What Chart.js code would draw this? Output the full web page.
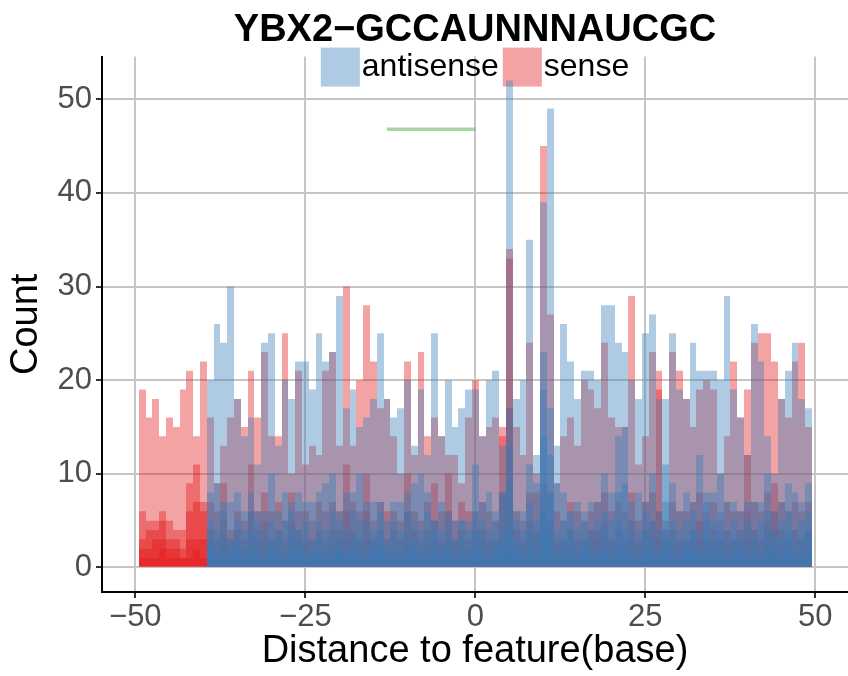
<!DOCTYPE html>
<html>
<head>
<meta charset="utf-8">
<script src="https://cdn.jsdelivr.net/npm/chart.js@4.4.1/dist/chart.umd.min.js"></script>
<style>
  html, body { margin: 0; padding: 0; background: #fff; }
</style>
</head>
<body>
<canvas id="distChart" width="848" height="676"></canvas>
<script>
// distance to feature, one bar per base
const positions = [
    -49, -48, -47, -46, -45, -44, -43, -42, -41, -40,
    -39, -38, -37, -36, -35, -34, -33, -32, -31, -30,
    -29, -28, -27, -26, -25, -24, -23, -22, -21, -20,
    -19, -18, -17, -16, -15, -14, -13, -12, -11, -10,
    -9, -8, -7, -6, -5, -4, -3, -2, -1, 0,
    1, 2, 3, 4, 5, 6, 7, 8, 9, 10,
    11, 12, 13, 14, 15, 16, 17, 18, 19, 20,
    21, 22, 23, 24, 25, 26, 27, 28, 29, 30,
    31, 32, 33, 34, 35, 36, 37, 38, 39, 40,
    41, 42, 43, 44, 45, 46, 47, 48, 49
];

// sense strand, one array per overlaid sample
const sense1 = [
    19, 16, 18, 14, 16, 15, 19, 21, 14, 22,
    16, 9, 13, 16, 18, 15, 21, 16, 23, 14,
    14, 25, 10, 21, 11, 13, 12, 21, 23, 13,
    30, 13, 20, 28, 22, 17, 18, 14, 10, 22,
    12, 23, 14, 16, 14, 12, 12, 9, 16, 20,
    14, 15, 16, 15, 34, 15, 12, 24, 10, 45,
    27, 9, 14, 16, 13, 20, 19, 17, 24, 16,
    15, 15, 29, 11, 14, 23, 21, 5, 23, 21,
    18, 15, 19, 20, 19, 10, 14, 22, 16, 19,
    24, 25, 25, 22, 18, 16, 22, 24, 15
];
const sense2 = [
    6, 5, 5, 6, 5, 4, 4, 9, 11, 7,
    7, 6, 9, 4, 6, 5, 11, 6, 8, 6,
    7, 5, 8, 6, 6, 5, 7, 6, 7, 6,
    11, 7, 6, 10, 5, 7, 6, 6, 5, 10,
    6, 5, 7, 9, 6, 10, 5, 7, 6, 6,
    7, 6, 5, 14, 33, 6, 5, 8, 8, 9,
    8, 6, 5, 7, 6, 5, 6, 7, 8, 6,
    7, 6, 8, 5, 7, 8, 19, 4, 7, 6,
    6, 7, 8, 6, 7, 5, 7, 6, 6, 12,
    7, 6, 8, 9, 7, 6, 7, 6, 7
];
const sense3 = [
    3, 4, 4, 5, 3, 3, 2, 6, 7, 6,
    4, 3, 5, 3, 4, 3, 6, 4, 5, 3,
    4, 3, 5, 4, 3, 3, 4, 3, 4, 4,
    6, 4, 3, 6, 3, 4, 3, 4, 3, 6,
    4, 3, 4, 5, 3, 6, 3, 4, 3, 4,
    4, 3, 3, 8, 17, 4, 3, 5, 4, 6,
    5, 3, 3, 4, 3, 3, 4, 4, 5, 3,
    4, 3, 5, 3, 4, 5, 6, 3, 4, 3,
    3, 4, 5, 3, 4, 3, 4, 3, 4, 6,
    4, 3, 5, 6, 4, 3, 4, 3, 4
];
const sense4 = [
    2, 2, 3, 3, 2, 2, 1, 3, 3, 3,
    2, 2, 3, 1, 2, 2, 3, 2, 3, 2,
    2, 2, 3, 2, 2, 1, 2, 2, 2, 3,
    3, 2, 2, 3, 2, 2, 2, 2, 1, 3,
    2, 2, 2, 3, 2, 3, 2, 2, 2, 2,
    2, 2, 2, 4, 9, 2, 2, 3, 2, 3,
    3, 2, 2, 2, 2, 2, 2, 3, 3, 2,
    2, 2, 3, 2, 2, 3, 3, 2, 2, 2,
    2, 2, 3, 2, 2, 2, 2, 2, 2, 3,
    2, 2, 3, 4, 2, 2, 2, 2, 2
];
const sense5 = [
    1, 1, 1, 2, 1, 1, 1, 1, 2, 1,
    1, 1, 2, 1, 1, 1, 2, 1, 1, 1,
    1, 1, 1, 1, 1, 1, 1, 1, 1, 2,
    2, 1, 1, 1, 1, 1, 1, 1, 1, 1,
    1, 1, 1, 2, 1, 1, 1, 1, 1, 1,
    1, 1, 1, 2, 4, 1, 1, 1, 1, 1,
    2, 1, 1, 1, 1, 1, 1, 2, 1, 1,
    1, 1, 2, 1, 1, 1, 2, 1, 1, 1,
    1, 1, 1, 1, 1, 1, 1, 1, 1, 2,
    1, 1, 2, 2, 1, 1, 1, 1, 1
];

// antisense strand (no reads before -39)
const anti1 = [
    null, null, null, null, null, null, null, null, null, null,
    20, 26, 24, 30, 18, 14, 16, 11, 24, 25,
    13, 20, 18, 22, 22, 19, 25, 22, 23, 29,
    17, 19, 15, 16, 18, 25, 18, 16, 17, 20,
    13, 19, 12, 25, 14, 20, 15, 17, 19, 19,
    14, 20, 21, 13, 52, 18, 20, 35, 12, 39,
    49, 13, 26, 22, 18, 21, 21, 20, 28, 28,
    24, 23, 20, 18, 25, 27, 18, 18, 25, 19,
    18, 24, 21, 21, 21, 20, 29, 19, 16, 12,
    26, 22, 14, 10, 18, 21, 24, 18, 17
];
const anti2 = [
    null, null, null, null, null, null, null, null, null, null,
    8, 9, 7, 7, 8, 6, 8, 6, 6, 10,
    6, 8, 7, 8, 7, 7, 8, 9, 10, 6,
    8, 8, 10, 7, 7, 7, 5, 7, 7, 8,
    9, 10, 8, 5, 7, 6, 5, 5, 5, 11,
    7, 8, 6, 8, 17, 6, 6, 11, 9, 23,
    17, 9, 8, 6, 7, 6, 7, 7, 10, 8,
    14, 15, 7, 8, 7, 10, 6, 11, 9, 6,
    8, 7, 12, 7, 8, 10, 7, 7, 6, 7,
    7, 7, 10, 6, 7, 9, 8, 7, 9
];
const anti3 = [
    null, null, null, null, null, null, null, null, null, null,
    5, 4, 6, 3, 5, 4, 6, 5, 4, 5,
    4, 5, 6, 4, 5, 3, 5, 4, 6, 5,
    4, 6, 5, 5, 4, 6, 3, 5, 4, 6,
    5, 4, 6, 5, 4, 5, 3, 5, 4, 6,
    5, 4, 5, 8, 13, 5, 4, 7, 5, 19,
    12, 4, 5, 6, 4, 5, 4, 5, 6, 5,
    8, 9, 5, 4, 6, 5, 4, 7, 5, 4,
    5, 6, 4, 8, 5, 6, 4, 5, 4, 5,
    4, 5, 6, 4, 5, 6, 4, 5, 6
];
const anti4 = [
    null, null, null, null, null, null, null, null, null, null,
    3, 2, 3, 2, 3, 2, 4, 3, 2, 3,
    3, 2, 4, 3, 2, 2, 3, 2, 3, 3,
    2, 3, 3, 2, 3, 4, 2, 3, 2, 3,
    3, 2, 3, 4, 2, 3, 2, 3, 2, 4,
    3, 2, 3, 4, 9, 3, 2, 4, 3, 14,
    8, 2, 3, 4, 2, 3, 3, 2, 4, 3,
    5, 4, 3, 2, 4, 3, 2, 4, 3, 2,
    3, 4, 2, 5, 3, 4, 2, 3, 3, 2,
    3, 2, 4, 3, 3, 4, 2, 3, 4
];
const anti5 = [
    null, null, null, null, null, null, null, null, null, null,
    2, 1, 1, 1, 2, 1, 2, 1, 1, 2,
    1, 1, 2, 2, 1, 1, 2, 1, 1, 2,
    1, 2, 1, 1, 2, 2, 1, 1, 1, 2,
    2, 1, 1, 2, 1, 2, 1, 1, 1, 2,
    1, 1, 2, 2, 4, 2, 1, 2, 1, 6,
    3, 1, 1, 2, 1, 2, 1, 1, 2, 1,
    2, 2, 1, 1, 2, 1, 1, 2, 1, 1,
    2, 2, 1, 2, 1, 2, 1, 1, 2, 1,
    1, 1, 2, 2, 1, 2, 1, 1, 2
];

// motif feature segment
const featureX = [-13, 0];
const featureLevel = 46.8;

const chartTitle = "YBX2\u2212GCCAUNNNAUCGC";
const legendLabels = ["antisense", "sense"];
const xTickValues = [-50, -25, 0, 25, 50];
const xTickLabels = ["\u221250", "\u221225", "0", "25", "50"];
const yTickValues = [0, 10, 20, 30, 40, 50];

const BLUE = "rgba(55, 126, 184, 0.4)";
const RED = "rgba(228, 26, 28, 0.4)";

Chart.defaults.font.family = "'Liberation Sans', Arial, Helvetica, sans-serif";

function barLayer(label, values, color) {
    return {
        type: "bar",
        label: label,
        data: positions.map((p, i) => ({ x: p, y: values[i] })),
        backgroundColor: color,
        borderWidth: 0,
        grouped: false,
        barPercentage: 1,
        categoryPercentage: 1,
        inflateAmount: 0,
    };
}

// snap bar edges to whole pixels so neighbouring translucent bars don't leave seams
const snapBars = {
    id: "snapBars",
    afterDatasetsUpdate(chart) {
        chart.getSortedVisibleDatasetMetas().forEach((meta) => {
            if (meta.type !== "bar") return;
            meta.data.forEach((el) => {
                const l = Math.round(el.x - el.width / 2);
                const r = Math.round(el.x + el.width / 2);
                el.x = (l + r) / 2;
                el.width = r - l;
            });
        });
    },
};

const insideLegend = {
    id: "insideLegend",
    beforeDatasetsDraw(chart) {
        const ctx = chart.ctx;
        const area = chart.chartArea;
        const box = 39;
        ctx.save();
        ctx.font = "32px 'Liberation Sans', Arial, sans-serif";
        ctx.textBaseline = "middle";
        ctx.textAlign = "left";
        const w1 = ctx.measureText(legendLabels[0]).width;
        const w2 = ctx.measureText(legendLabels[1]).width;
        const total = box + 2 + w1 + 4 + box + 2 + w2;
        let x = (area.left + area.right) / 2 - total / 2;
        const top = area.top - 9;
        const mid = top + box / 2;
        ctx.fillStyle = BLUE;
        ctx.fillRect(x, top, box, box);
        ctx.fillStyle = "#000";
        ctx.fillText(legendLabels[0], x + box + 2, mid);
        x += box + 2 + w1 + 4;
        ctx.fillStyle = RED;
        ctx.fillRect(x, top, box, box);
        ctx.fillStyle = "#000";
        ctx.fillText(legendLabels[1], x + box + 2, mid);
        ctx.restore();
    },
};

const gridStyle = {
    color: "#C6C6C6",
    lineWidth: 2,
    drawTicks: true,
    tickLength: 6,
    tickColor: "#333333",
    tickWidth: 2,
    offset: false,
};

new Chart(document.getElementById("distChart").getContext("2d"), {
    type: "bar",
    data: {
        datasets: [
            {
                type: "line",
                label: "feature",
                data: featureX.map((x) => ({ x: x, y: featureLevel })),
                borderColor: "rgba(77, 175, 74, 0.5)",
                borderWidth: 3.5,
                pointRadius: 0,
                fill: false,
            },
            barLayer("antisense", anti1, BLUE),
            barLayer("antisense", anti2, BLUE),
            barLayer("antisense", anti3, BLUE),
            barLayer("antisense", anti4, BLUE),
            barLayer("antisense", anti5, BLUE),
            barLayer("sense", sense1, RED),
            barLayer("sense", sense2, RED),
            barLayer("sense", sense3, RED),
            barLayer("sense", sense4, RED),
            barLayer("sense", sense5, RED),
        ],
    },
    options: {
        responsive: false,
        animation: false,
        devicePixelRatio: 1,
        layout: { padding: 0 },
        plugins: {
            legend: { display: false },
            tooltip: { enabled: false },
            title: {
                display: true,
                text: chartTitle,
                fullSize: false,
                color: "#000",
                font: { size: 38, weight: "bold" },
                padding: { top: 8, bottom: 3 },
            },
        },
        scales: {
            x: {
                type: "linear",
                min: -54.9,
                max: 54.8,
                offset: false,
                afterBuildTicks: (axis) => {
                    axis.ticks = xTickValues.map((v) => ({ value: v }));
                },
                afterFit: (axis) => {
                    axis.height = 84;
                },
                ticks: {
                    autoSkip: false,
                    maxRotation: 0,
                    color: "#4D4D4D",
                    font: { size: 31 },
                    padding: 1,
                    callback: (v) => xTickLabels[xTickValues.indexOf(v)],
                },
                grid: gridStyle,
                border: { display: true, color: "#000", width: 2 },
                title: {
                    display: true,
                    text: "Distance to feature(base)",
                    color: "#000",
                    font: { size: 38 },
                    padding: { top: 0, bottom: 2 },
                },
            },
            y: {
                type: "linear",
                min: -2.62,
                max: 54.55,
                afterBuildTicks: (axis) => {
                    axis.ticks = yTickValues.map((v) => ({ value: v }));
                },
                afterFit: (axis) => {
                    axis.width = 102;
                },
                ticks: {
                    color: "#4D4D4D",
                    font: { size: 31 },
                    padding: 4,
                },
                grid: gridStyle,
                border: { display: true, color: "#000", width: 2 },
                title: {
                    display: true,
                    text: "Count",
                    color: "#000",
                    font: { size: 38 },
                    padding: { top: 4, bottom: 0 },
                },
            },
        },
    },
    plugins: [snapBars, insideLegend],
});
</script>
</body>
</html>
